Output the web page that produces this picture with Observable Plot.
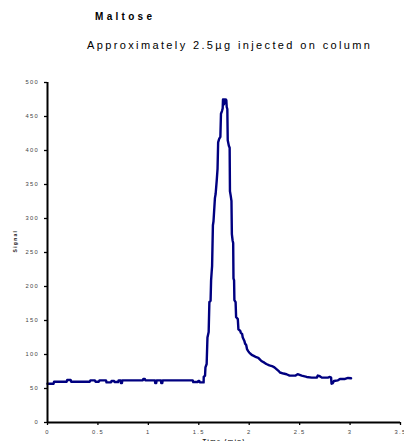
<!DOCTYPE html>
<html>
<head>
<meta charset="utf-8">
<script src="https://cdn.jsdelivr.net/npm/d3@7"></script>
<script src="https://cdn.jsdelivr.net/npm/@observablehq/plot@0.6"></script>
<style>
  body { margin: 0; background: #fff; font-family: "Liberation Sans", Arial, sans-serif; }
  #wrap { width: 404px; height: 441px; overflow: hidden; }
  #header { position: relative; width: 404px; height: 62px; }
  #title { position: absolute; left: 95px; top: 12px; font-size: 10px; line-height: 10px; font-weight: bold; letter-spacing: 3.3px; color: #000; white-space: nowrap; }
  #subtitle { position: absolute; left: 87px; top: 40px; font-size: 11px; line-height: 11px; letter-spacing: 2.37px; color: #000; white-space: nowrap; }
  #chart svg { display: block; }
  #chart svg text { letter-spacing: 1.3px; }
</style>
</head>
<body>
<div id="wrap">
  <div id="header">
    <div id="title">Maltose</div>
    <div id="subtitle">Approximately 2.5µg injected on column</div>
  </div>
  <div id="chart"></div>
</div>
<script>
// Chromatogram trace
const timeMin = [
  0, 0.06, 0.065, 0.19, 0.195, 0.23, 0.235, 0.42, 0.425, 0.47, 0.475, 0.51, 0.515, 0.58, 0.585,
  0.63, 0.635, 0.66, 0.665, 0.7, 0.705, 0.725, 0.728, 0.738, 0.742, 0.945, 0.95, 0.965, 0.97,
  1.065, 1.068, 1.078, 1.082, 1.125, 1.128, 1.138, 1.142, 1.44, 1.445, 1.49, 1.495, 1.505, 1.51,
  1.548, 1.549, 1.562, 1.566, 1.578, 1.586, 1.598, 1.605, 1.617, 1.622, 1.628, 1.632, 1.64, 1.646,
  1.66, 1.667, 1.678, 1.686, 1.692, 1.702, 1.714, 1.72, 1.73, 1.737, 1.74, 1.746, 1.75, 1.756,
  1.762, 1.768, 1.773, 1.777, 1.783, 1.787, 1.798, 1.806, 1.809, 1.816, 1.824, 1.828, 1.835,
  1.841, 1.844, 1.85, 1.853, 1.865, 1.87, 1.887, 1.893, 1.91, 1.917, 1.93, 1.936, 1.952, 1.959,
  1.97, 1.978, 1.99, 2.0, 2.012, 2.03, 2.045, 2.07, 2.09, 2.11, 2.125, 2.15, 2.17, 2.2, 2.225,
  2.25, 2.27, 2.29, 2.305, 2.34, 2.37, 2.4, 2.46, 2.48, 2.5, 2.52, 2.57, 2.62, 2.67, 2.68, 2.7,
  2.72, 2.78, 2.8, 2.812, 2.816, 2.83, 2.84, 2.88, 2.9, 2.95, 2.98, 3.01
];
const signal = [
  57, 57, 60, 60, 62.5, 62.5, 60, 60, 62, 62, 60, 60, 62, 62, 59,
  59, 61, 61, 59.5, 59.5, 62, 62, 58, 58, 62, 62, 64, 64, 62,
  62, 58, 58, 62, 62, 58, 58, 62, 62, 59.5, 59.5, 61, 61, 59,
  59, 67, 69, 81, 86, 125, 133, 177, 179, 209, 222, 230, 290, 296,
  330, 336, 356, 373, 412, 417, 420, 454, 458, 462, 475, 475, 468, 475,
  470, 475, 474, 464, 461, 415, 407, 404, 340, 334, 326, 277, 268,
  264, 212, 209, 180, 177, 155, 152, 137, 135, 132, 130, 125, 120, 116,
  114, 108, 105, 103, 101, 99, 98, 96, 95, 92, 90, 88, 86, 84, 83,
  81, 78.5, 76, 73.5, 72, 71, 69, 69, 71, 70, 69, 67, 66, 66, 69, 68,
  66, 66, 67, 66, 57, 58, 61, 62, 64, 64, 65.5, 65
];
const xTicks = [0, 0.5, 1, 1.5, 2, 2.5, 3, 3.5];
const yTicks = [0, 50, 100, 150, 200, 250, 300, 350, 400, 450, 500];
const xLabel = "Time (min)";
const yLabel = "Signal";

const data = timeMin.map((t, i) => ({t, s: signal[i]}));

const chart = Plot.plot({
  width: 404,
  height: 379,
  marginTop: 20,
  marginBottom: 19,
  marginLeft: 47,
  marginRight: 4,
  style: {fontFamily: "'Liberation Sans', Arial, sans-serif", background: "#fff", overflow: "visible"},
  x: {domain: [0, 3.5]},
  y: {domain: [0, 500]},
  marks: [
    Plot.axisY({ticks: yTicks, tickSize: 3, tickPadding: 5.4, fontSize: 5.8, tickFormat: d => String(d),
      label: null, stroke: "#000", strokeWidth: 1.3, fill: "#444"}),
    Plot.axisX({ticks: xTicks, tickSize: 3, tickPadding: 4, fontSize: 5.8, tickFormat: d => String(d),
      label: null, stroke: "#000", strokeWidth: 1.3, fill: "#444"}),
    Plot.line(data, {x: "t", y: "s", stroke: "#000080", strokeWidth: 2.4}),
    Plot.ruleX([0], {stroke: "#000", strokeWidth: 2}),
    Plot.ruleY([0], {stroke: "#000", strokeWidth: 2}),
    Plot.text([yLabel], {frameAnchor: "left", dx: -32, rotate: -90, fontSize: 5, fontWeight: "bold", fill: "#222"}),
    Plot.text([xLabel], {frameAnchor: "bottom", dy: 16, lineAnchor: "top", fontSize: 6, fontWeight: "bold", fill: "#222"})
  ]
});
document.getElementById("chart").appendChild(chart);
</script>
</body>
</html>
